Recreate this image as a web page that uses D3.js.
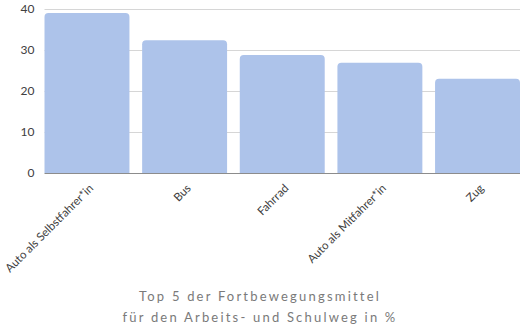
<!DOCTYPE html>
<html>
<head>
<meta charset="utf-8">
<script src="https://cdn.jsdelivr.net/npm/d3@7"></script>
<style>
  html, body { margin: 0; padding: 0; background: #fff; }
  svg { display: block; }
</style>
</head>
<body>
<div id="chart"></div>
<script>
// Top 5 modes of transport for the commute to work and school (in %)
const categories = ["Auto als Selbstfahrer*in", "Bus", "Fahrrad", "Auto als Mitfahrer*in", "Zug"];
const values = [38.9, 32.3, 28.7, 26.8, 22.9];
const yTicks = [0, 10, 20, 30, 40];
const titleLines = ["Top 5 der Fortbewegungsmittel", "für den Arbeits- und Schulweg in %"];

const width = 522, height = 333;
const margin = { top: 8.5, left: 44.5, right: 2, bottom: 160 };
const plotBottom = 173;

const svg = d3.select("#chart").append("svg")
  .attr("width", width)
  .attr("height", height)
  .style("font-family", "Lato, 'Open Sans', sans-serif");

const x = d3.scaleBand()
  .domain(categories)
  .range([margin.left, width - margin.right])
  .paddingInner(0.13)
  .paddingOuter(0);

const y = d3.scaleLinear()
  .domain([0, 40])
  .range([plotBottom, margin.top]);

// horizontal gridlines
svg.append("g")
  .selectAll("line")
  .data(yTicks.filter(d => d > 0))
  .join("line")
  .attr("x1", margin.left)
  .attr("x2", width - margin.right)
  .attr("y1", d => Math.round(y(d)) + 0.5)
  .attr("y2", d => Math.round(y(d)) + 0.5)
  .attr("stroke", "#d6d6d6")
  .attr("stroke-width", 1);

// y axis labels
const yAxis = d3.axisLeft(y).tickValues(yTicks).tickSize(0).tickPadding(0);
const gy = svg.append("g")
  .attr("transform", `translate(${margin.left - 10},0)`)
  .call(yAxis);
gy.select(".domain").remove();
gy.selectAll("text")
  .attr("fill", "#404040")
  .style("font-size", "12px")
  .style("font-family", "Lato, 'Open Sans', sans-serif");

// bars with rounded top corners
const r = 4;
function barPath(x0, y0, w, h) {
  const rr = Math.min(r, h, w / 2);
  return `M${x0},${y0 + h}` +
    `V${y0 + rr}` +
    `Q${x0},${y0} ${x0 + rr},${y0}` +
    `H${x0 + w - rr}` +
    `Q${x0 + w},${y0} ${x0 + w},${y0 + rr}` +
    `V${y0 + h}Z`;
}

svg.append("g")
  .selectAll("path")
  .data(categories.map((c, i) => ({ c, v: values[i] })))
  .join("path")
  .attr("d", d => barPath(x(d.c), y(d.v), x.bandwidth(), y(0) - y(d.v)))
  .attr("fill", "#adc3ea");

// baseline
svg.append("line")
  .attr("x1", margin.left)
  .attr("x2", width - margin.right)
  .attr("y1", plotBottom + 0.5)
  .attr("y2", plotBottom + 0.5)
  .attr("stroke", "#8c8c8c")
  .attr("stroke-width", 1);

// rotated category labels
const xAxis = d3.axisBottom(x).tickSize(0).tickPadding(0);
const gx = svg.append("g")
  .attr("transform", `translate(0,${plotBottom})`)
  .call(xAxis);
gx.select(".domain").remove();
gx.selectAll("text")
  .attr("text-anchor", "end")
  .attr("dy", null)
  .attr("y", null)
  .attr("transform", "translate(7,16) rotate(-45)")
  .attr("fill", "#404040")
  .style("font-size", "11.5px")
  .style("font-family", "Lato, 'Open Sans', sans-serif");

// title below the chart
svg.append("g")
  .selectAll("text")
  .data(titleLines)
  .join("text")
  .attr("x", 260)
  .attr("y", (d, i) => 301 + i * 20.5)
  .attr("text-anchor", "middle")
  .attr("fill", "#7a7a7a")
  .style("font-size", "13px")
  .style("letter-spacing", "2.2px")
  .style("font-family", "Lato, 'Open Sans', sans-serif")
  .text(d => d);
</script>
</body>
</html>
